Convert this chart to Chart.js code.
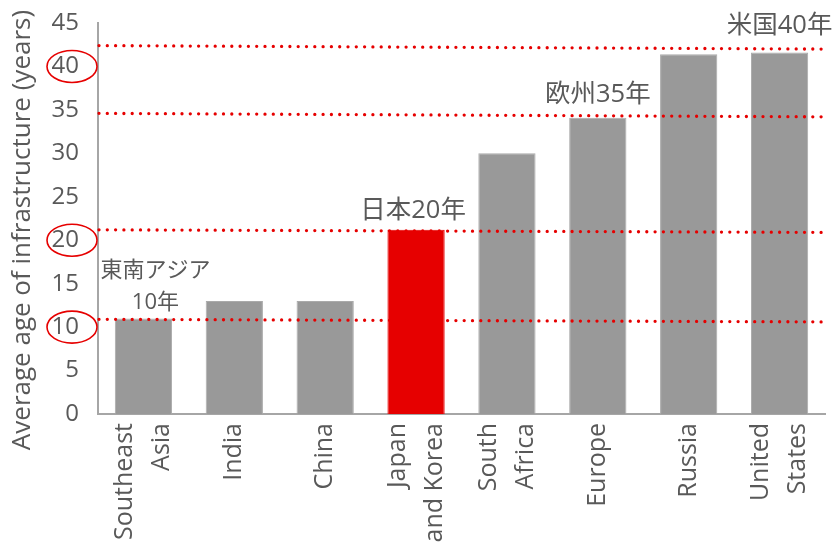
<!DOCTYPE html>
<html>
<head>
<meta charset="utf-8">
<script src="https://cdn.jsdelivr.net/npm/chart.js@4.4.0/dist/chart.umd.min.js"></script>
<style>
  html, body { margin: 0; padding: 0; background: #fff; }
  #wrap { width: 836px; height: 544px; }
</style>
</head>
<body>
<div id="wrap"><canvas id="ageChart" width="836" height="544"></canvas></div>
<script>
// data
const regions = [
  ["Southeast", "Asia"], ["India"], ["China"], ["Japan", "and Korea"],
  ["South", "Africa"], ["Europe"], ["Russia"], ["United", "States"],
];
const avgAge = [11.0, 13.0, 13.0, 21.2, 30.0, 34.1, 41.4, 41.6];
const highlightIndex = 3;
const yTickValues = [0, 5, 10, 15, 20, 25, 30, 35, 40, 45];

// dotted reference lines (value at left end, value at right end)
const refLineStart = [10.9, 21.2, 34.6, 42.4];
const refLineEnd = [10.6, 20.9, 34.2, 42.0];
const circledTicks = [10, 20, 40];

// callouts above bars
const calloutText = [["東南アジア", "10年"], ["日本20年"], ["欧州35年"], ["米国40年"]];
const calloutBar = [0, 3, 5, 7];

const yTitle = "Average age of infrastructure (years)";

const FONT = '"Open Sans", "Noto Sans CJK JP", sans-serif';
const TEXT = "#595959";
const RED = "#e60000";

// two-line labels get a blank half-step line between them so they sit
// either side of the tick, single labels sit on it
const stackLabel = lines => (lines.length > 1 ? [lines[0], "", lines[1]] : ["", lines[0]]);

const overlay = {
  id: "overlay",
  afterDatasetsDraw(chart) {
    const { ctx, chartArea, scales } = chart;
    const x = scales.x, y = scales.y;

    // dotted red lines
    ctx.save();
    ctx.strokeStyle = RED;
    ctx.lineWidth = 3.3;
    ctx.lineCap = "round";
    ctx.setLineDash([0, 8.3]);
    refLineStart.forEach((v, i) => {
      ctx.beginPath();
      ctx.moveTo(chartArea.left + 1, y.getPixelForValue(v));
      ctx.lineTo(chartArea.right - 3, y.getPixelForValue(refLineEnd[i]));
      ctx.stroke();
    });
    ctx.restore();

    // ellipses round tick labels
    ctx.save();
    ctx.strokeStyle = RED;
    ctx.lineWidth = 1.6;
    circledTicks.forEach(v => {
      ctx.beginPath();
      ctx.ellipse(72, y.getPixelForValue(v), 25, 16, 0, 0, Math.PI * 2);
      ctx.stroke();
    });
    ctx.restore();

    // callout text
    const lift = [16, 19, 23, 27];
    const shift = [12, -3, 0, 0];
    const size = [22, 25.5, 25.5, 25.5];
    ctx.save();
    ctx.fillStyle = TEXT;
    ctx.textAlign = "center";
    ctx.textBaseline = "middle";
    calloutText.forEach((lines, i) => {
      const b = calloutBar[i];
      const cx = x.getPixelForValue(b) + shift[i];
      const baseY = y.getPixelForValue(avgAge[b]) - lift[i];
      ctx.font = size[i] + "px " + FONT;
      lines.forEach((t, j) => {
        ctx.fillText(t, cx, baseY - (lines.length - 1 - j) * 32);
      });
    });
    ctx.restore();

    // y axis title, sized to run most of the axis height
    ctx.save();
    ctx.fillStyle = TEXT;
    ctx.font = "25px " + FONT;
    const titleSize = 25 * 440 / ctx.measureText(yTitle).width;
    ctx.font = titleSize.toFixed(1) + "px " + FONT;
    ctx.textAlign = "center";
    ctx.textBaseline = "middle";
    ctx.translate(23, 230);
    ctx.rotate(-Math.PI / 2);
    ctx.fillText(yTitle, 0, 0);
    ctx.restore();
  },
};

new Chart(document.getElementById("ageChart"), {
  type: "bar",
  data: {
    labels: regions,
    datasets: [
      {
        data: avgAge,
        backgroundColor: avgAge.map((_, i) => (i === highlightIndex ? RED : "#999999")),
        borderColor: avgAge.map((_, i) => (i === highlightIndex ? RED : "#aaaaaa")),
        borderWidth: 1,
        categoryPercentage: 1,
        barPercentage: 0.63,
      },
    ],
  },
  options: {
    responsive: false,
    animation: false,
    layout: { padding: { left: 0, right: 11, top: 23, bottom: 0 } },
    plugins: { legend: { display: false }, tooltip: { enabled: false } },
    scales: {
      x: {
        grid: { display: false, drawTicks: false },
        border: { display: true, color: "#a6a6a6", width: 2 },
        ticks: {
          autoSkip: false,
          minRotation: 90,
          maxRotation: 90,
          padding: 9,
          labelOffset: -18.5,
          color: TEXT,
          font: { family: FONT, size: 25, lineHeight: 0.74 },
          callback: (v, i) => stackLabel(regions[i]),
        },
        afterFit: s => {
          s.height = 130;
          s.paddingLeft = 0;
          s.paddingRight = 0;
        },
      },
      y: {
        min: 0,
        max: 45,
        afterBuildTicks: s => { s.ticks = yTickValues.map(v => ({ value: v })); },
        grid: { display: false, drawTicks: false },
        border: { display: true, color: "#a6a6a6", width: 2 },
        ticks: {
          padding: 19,
          color: TEXT,
          font: { family: FONT, size: 24 },
        },
        afterFit: s => {
          s.width = 98;
          s.paddingTop = 0;
          s.paddingBottom = 0;
        },
      },
    },
  },
  plugins: [overlay],
});
</script>
</body>
</html>
